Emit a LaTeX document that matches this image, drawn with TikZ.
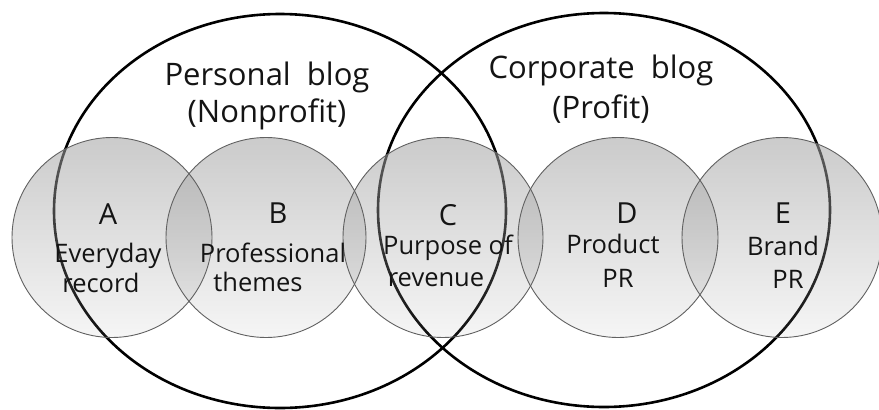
\documentclass[tikz,border=0pt]{standalone}
\usepackage{fontspec}
\setmainfont{Open Sans}
\usetikzlibrary{fadings}

% translucent grey discs: denser at the top, nearly clear at the bottom
\tikzfading[name=discfade,
  top color=transparent!42,
  middle color=transparent!57,
  bottom color=transparent!90]

\tikzset{
  group/.style={draw=black, line width=2.6pt},
  discfill/.style={fill=black!35, path fading=discfade},
  discrim/.style={draw=black!62, line width=0.9pt},
  title/.style={anchor=base, inner sep=0pt, font=\fontsize{31}{37}\selectfont, text=black!92},
  letter/.style={anchor=base, inner sep=0pt, font=\fontsize{29}{34}\selectfont, text=black!92},
  label/.style={anchor=base, inner sep=0pt, font=\fontsize{25.5}{30}\selectfont, text=black!92}
}

\begin{document}
\begin{tikzpicture}[x=1pt, y=-1pt]
  \useasboundingbox (0,0) rectangle (879,410);
  \fill[white] (0,0) rectangle (879,410);

  % the two blog categories
  \draw[group] (280,211) ellipse [x radius=226, y radius=197];
  \draw[group] (604,210) ellipse [x radius=226, y radius=197];

  % five topic discs
  \foreach \cx in {112,266,443,618,782} {
    \path[discfill] (\cx,237.5) circle [radius=100];
  }
  \foreach \cx in {112,266,443,618,782} {
    \draw[discrim] (\cx,237.5) circle [radius=100];
  }

  % category titles
  \node[title] (personal) at (267,85) {Personal\ \ blog};
  \node[title] (nonprofit) at (267,122) {(Nonprofit)};
  \node[title] (corporate) at (601,78) {Corporate\ \ blog};
  \node[title] (profit) at (601,118) {(Profit)};

  % disc A
  \node[letter] (A) at (108,224) {A};
  \node[label] (A1) at (108,262) {Everyday};
  \node[label] (A2) at (101,292) {record};
  % disc B
  \node[letter] (B) at (278,223) {B};
  \node[label] (B1) at (273,262) {Professional};
  \node[label] (B2) at (258,291) {themes};
  % disc C
  \node[letter] (C) at (448,225) {C};
  \node[label] (C1) at (448,254) {Purpose of};
  \node[label] (C2) at (436,286) {revenue};
  % disc D
  \node[letter] (D) at (627,223) {D};
  \node[label] (D1) at (613,253) {Product};
  \node[label] (D2) at (618,287) {PR};
  % disc E
  \node[letter] (E) at (783,223) {E};
  \node[label] (E1) at (783,255) {Brand};
  \node[label] (E2) at (788,288) {PR};
\end{tikzpicture}
\end{document}
